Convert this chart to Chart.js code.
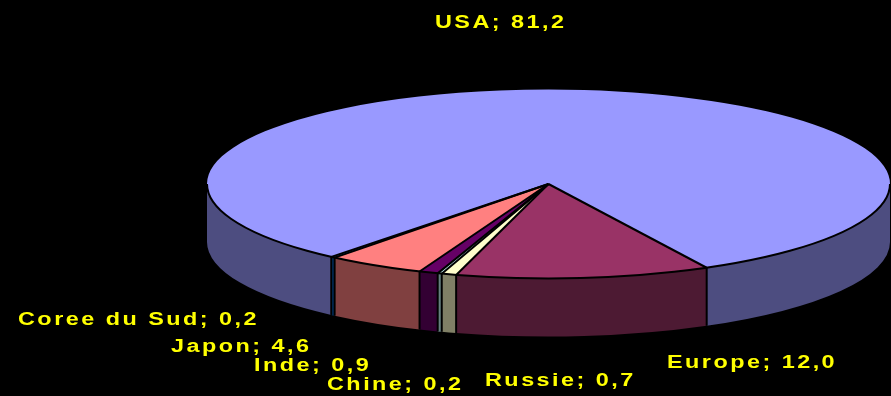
<!DOCTYPE html>
<html>
<head>
<meta charset="utf-8">
<script src="https://cdn.jsdelivr.net/npm/chart.js@4/dist/chart.umd.min.js"></script>
<style>
  html, body { margin: 0; padding: 0; background: #000; }
  canvas { display: block; background: #000; }
</style>
</head>
<body>
<canvas id="pie-chart" width="891" height="396"></canvas>
<script>
const categories = ["USA", "Europe", "Russie", "Chine", "Inde", "Japon", "Coree du Sud"];
const shares = [81.2, 12.0, 0.7, 0.2, 0.9, 4.6, 0.2];

const topColors = ["#9999FF", "#993366", "#FFFFCC", "#CCFFFF", "#660066", "#FF8080", "#0066CC"];
const sideColors = ["#4D4D80", "#4D1A33", "#808066", "#668080", "#330033", "#804040", "#003366"];

// where Excel put each text label (left, baseline)
const labelSpots = [[435, 28], [667, 368], [485, 386], [327, 390], [254, 371], [171, 352], [18, 325]];

// ellipse of the top face and thickness of the cake
const CX = 548.5, CY = 184, RX = 341.5, RY = 94.5, DEPTH = 58;

const norm = (a) => ((a % (2 * Math.PI)) + 2 * Math.PI) % (2 * Math.PI);

const pie3d = {
    id: "pie3d",
    beforeDatasetsDraw(chart) {
        const ctx = chart.ctx;
        const arcs = chart.getDatasetMeta(0).data;

        // side walls, only the front half shows
        ctx.save();
        arcs.forEach((a, i) => {
            const s0 = norm(a.startAngle);
            const s1 = s0 + (a.endAngle - a.startAngle);
            [[0, Math.PI], [2 * Math.PI, 3 * Math.PI]].forEach(([lo, hi]) => {
                const a1 = Math.max(s0, lo), a2 = Math.min(s1, hi);
                if (a2 <= a1) return;
                ctx.beginPath();
                ctx.ellipse(CX, CY, RX, RY, 0, a1, a2);
                ctx.ellipse(CX, CY + DEPTH, RX, RY, 0, a2, a1, true);
                ctx.closePath();
                ctx.fillStyle = sideColors[i];
                ctx.fill();
            });
        });
        ctx.strokeStyle = "#000";
        ctx.lineWidth = 2;
        arcs.forEach((a) => {
            const t = norm(a.startAngle);
            if (t > 0 && t < Math.PI) {
                const x = CX + RX * Math.cos(t), y = CY + RY * Math.sin(t);
                ctx.beginPath();
                ctx.moveTo(x, y);
                ctx.lineTo(x, y + DEPTH);
                ctx.stroke();
            }
        });
        ctx.restore();

        // squash the library's round pie onto the ellipse
        const a0 = arcs[0];
        ctx.save();
        ctx.translate(CX, CY);
        ctx.scale(RX / a0.outerRadius, RY / a0.outerRadius);
        ctx.translate(-a0.x, -a0.y);
    },
    afterDatasetsDraw(chart) {
        const ctx = chart.ctx;
        ctx.restore();
        const arcs = chart.getDatasetMeta(0).data;

        ctx.save();
        ctx.strokeStyle = "#000";
        ctx.lineWidth = 2;
        ctx.beginPath();
        ctx.ellipse(CX, CY, RX, RY, 0, 0, Math.PI);
        ctx.stroke();
        arcs.forEach((a) => {
            const t = a.startAngle;
            ctx.beginPath();
            ctx.moveTo(CX, CY);
            ctx.lineTo(CX + RX * Math.cos(t), CY + RY * Math.sin(t));
            ctx.stroke();
        });
        ctx.restore();
    },
    afterDraw(chart) {
        const ctx = chart.ctx;
        ctx.save();
        ctx.fillStyle = "#FFFF00";
        ctx.font = "bold 18px 'Liberation Sans', Arial, sans-serif";
        ctx.letterSpacing = "1.9px";
        ctx.textBaseline = "alphabetic";
        categories.forEach((c, i) => {
            const txt = c + "; " + shares[i].toFixed(1).replace(".", ",");
            ctx.save();
            ctx.translate(labelSpots[i][0], labelSpots[i][1]);
            ctx.scale(1.3, 1);
            ctx.fillText(txt, 0, 0);
            ctx.restore();
        });
        ctx.restore();
    }
};

const ctx = document.getElementById("pie-chart").getContext("2d");

const config = {
    type: "pie",
    data: {
        labels: categories,
        datasets: [{
            data: shares,
            backgroundColor: topColors,
            borderWidth: 0
        }]
    },
    options: {
        responsive: false,
        animation: false,
        rotation: 219.5,
        plugins: {
            legend: { display: false },
            tooltip: { enabled: false }
        }
    },
    plugins: [pie3d]
};

const share_chart = new Chart(ctx, config);
</script>
</body>
</html>
